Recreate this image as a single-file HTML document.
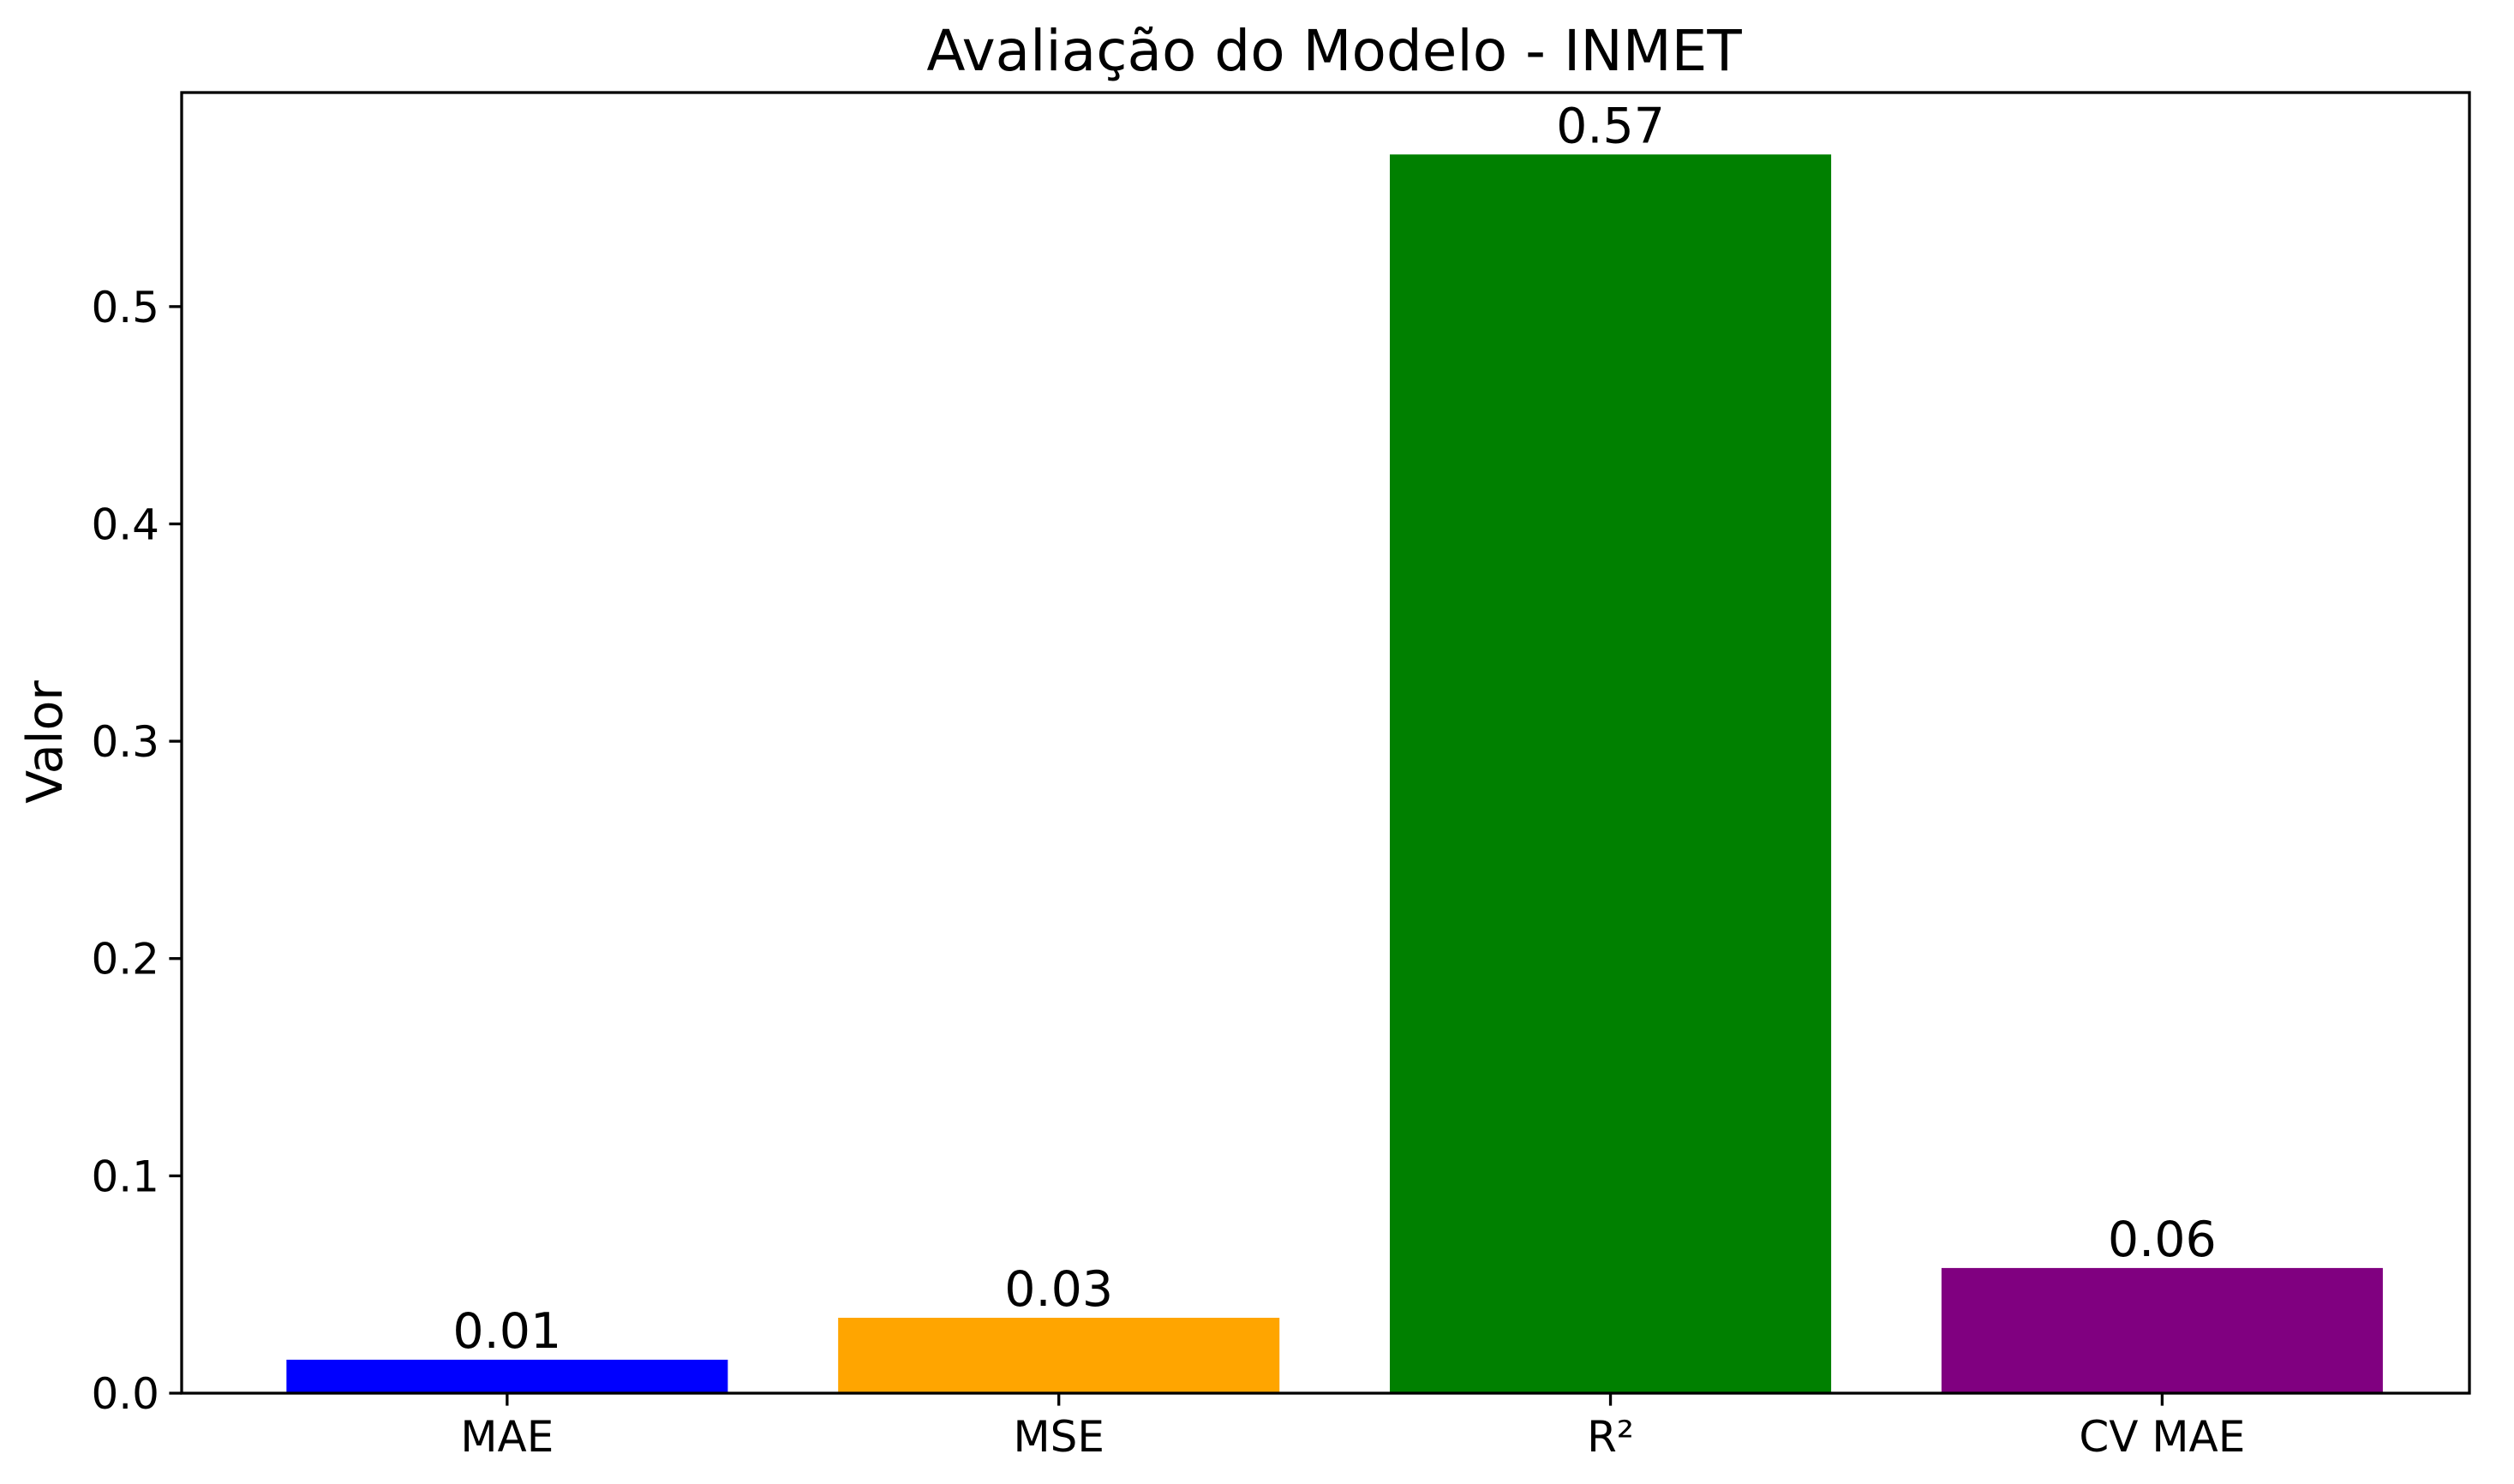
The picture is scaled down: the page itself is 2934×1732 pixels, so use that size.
<!DOCTYPE html>
<html><head><meta charset="utf-8"><style>
html,body{margin:0;padding:0;background:#fff;}
svg{display:block;font-family:"DejaVu Sans","Liberation Sans",sans-serif;}
</style></head><body>
<svg id="chart" width="2934" height="1732" viewBox="0 0 2934 1732" xmlns="http://www.w3.org/2000/svg">
<rect width="2934" height="1732" fill="#fff"/>
<text x="1557" y="82" font-size="66" text-anchor="middle">Avaliação do Modelo - INMET</text>
<text transform="translate(72,866) rotate(-90)" font-size="57" text-anchor="middle">Valor</text>
<g id="plot"></g>
</svg>
<script>
const categories = ["MAE", "MSE", "R²", "CV MAE"];
const values = [0.0154, 0.0347, 0.570, 0.0576];
const valueLabels = ["0.01", "0.03", "0.57", "0.06"];
const barColors = ["#0000ff", "#ffa500", "#008000", "#800080"];
const yTicks = [0.0, 0.1, 0.2, 0.3, 0.4, 0.5];
const yTickLabels = ["0.0", "0.1", "0.2", "0.3", "0.4", "0.5"];

const L = 212, R = 2882, T = 108, B = 1626;
const xMin = -0.59, xMax = categories.length - 1 + 0.557;
const yMin = 0, yMax = 0.5985;
const xS = v => L + (v - xMin) / (xMax - xMin) * (R - L);
const yS = v => B - (v - yMin) / (yMax - yMin) * (B - T);
const NS = "http://www.w3.org/2000/svg";
const g = document.getElementById('plot');
function mk(tag, attrs) { const e = document.createElementNS(NS, tag); for (const k in attrs) e.setAttribute(k, attrs[k]); g.appendChild(e); return e; }

const bw = 0.8;
categories.forEach((c, i) => {
  const x0 = xS(i - bw / 2), x1 = xS(i + bw / 2), yt = yS(values[i]);
  const r = mk('rect', {x: x0, y: yt, width: x1 - x0, height: B - yt, fill: barColors[i]});
  
  
  const t = mk('text', {x: xS(i), y: yt - 14, 'font-size': 57, 'text-anchor': 'middle'});
  t.textContent = valueLabels[i];
  
  
  const tk = mk('line', {x1: xS(i), x2: xS(i), y1: B, y2: B + 14.6, stroke: '#000', 'stroke-width': 3.3});
  
  
  const tl = mk('text', {x: xS(i), y: B + 68, 'font-size': 50, 'text-anchor': 'middle'});
  tl.textContent = c;
  
  
});
yTicks.forEach((v, i) => {
  const y = yS(v);
  const tk = mk('line', {x1: L - 14.6, x2: L, y1: y, y2: y, stroke: '#000', 'stroke-width': 3.3});
  
  
  const tl = mk('text', {x: L - 26, y: y + 18, 'font-size': 50, 'text-anchor': 'end'});
  tl.textContent = yTickLabels[i];
  
  
});
const frame = mk('rect', {x: L, y: T, width: R - L, height: B - T, fill: 'none', stroke: '#000', 'stroke-width': 3.3});


</script>
</body></html>
